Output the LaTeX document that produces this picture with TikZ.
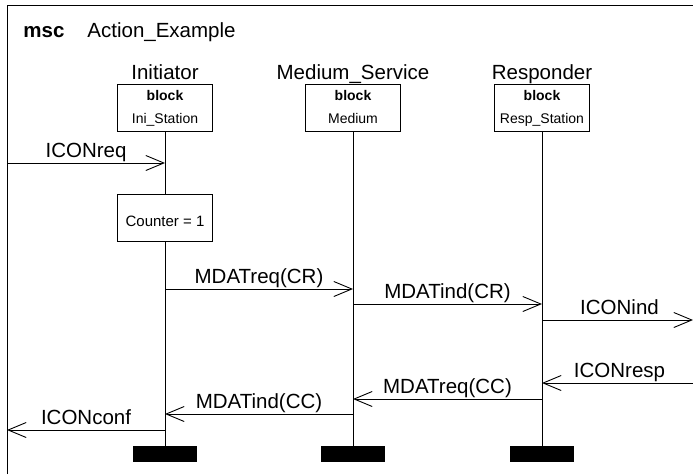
\documentclass[tikz,border=0pt]{standalone}
\usepackage{fontspec}
\setmainfont{Liberation Sans}
\usetikzlibrary{arrows.meta}
\begin{document}
\begin{tikzpicture}[x=1pt,y=-1pt, line width=0.9pt,
  big/.style={font=\fontsize{20.5}{24}\selectfont, inner sep=0, anchor=base},
  small/.style={font=\fontsize{14}{16}\selectfont, inner sep=0, anchor=base},
  inst/.style={draw, minimum width=95pt, minimum height=47pt, inner sep=0},
  bar/.style={fill=black, draw=none, minimum width=64pt, minimum height=16pt, inner sep=0},
  msg/.style={-{Straight Barb[length=18pt,width=15pt]}},
  lab/.style={big, midway, yshift=6pt},
]
\useasboundingbox (0,0) rectangle (693,474);
% frame
\draw (7,474) -- (7,5) -- (693,5);
\node[big, anchor=base west, font=\fontsize{20.5}{24}\selectfont\bfseries] (kw) at (23,37) {msc};
\node[big, anchor=base west] (name) at (87,37) {Action\_Example};

% instance heads
\node[big] (tI) at (165,79) {Initiator};
\node[big] (tM) at (353,79) {Medium\_Service};
\node[big] (tR) at (542,79) {Responder};

\node[inst] (bI) at (165,107.5) {};
\node[inst] (bM) at (353,107.5) {};
\node[inst] (bR) at (542,107.5) {};
\node[small, font=\fontsize{14}{16}\selectfont\bfseries] (kI) at (165,100) {block};
\node[small, font=\fontsize{14}{16}\selectfont\bfseries] (kM) at (353,100) {block};
\node[small, font=\fontsize{14}{16}\selectfont\bfseries] (kR) at (542,100) {block};
\node[small] (nI) at (165,123) {Ini\_Station};
\node[small] (nM) at (353,123) {Medium};
\node[small] (nR) at (542,123) {Resp\_Station};

% action
\node[inst] (cnt) at (165,217.5) {};
\node[small, font=\fontsize{15}{18}\selectfont] (cntt) at (165,226) {Counter = 1};

% instance ends
\node[bar] (eI) at (165,454) {};
\node[bar] (eM) at (353,454) {};
\node[bar] (eR) at (542,454) {};

% lifelines
\draw (bI.south) -- (cnt.north);
\draw (cnt.south) -- (eI.north);
\draw (bM.south) -- (eM.north);
\draw (bR.south) -- (eR.north);

% environment points
\coordinate (env1) at (7,163);
\coordinate (env2) at (693,320);
\coordinate (env3) at (693,383);
\coordinate (env4) at (7,430);

% messages
\draw[msg] (env1) -- (env1 -| bI.south) node[lab] {ICONreq};
\draw[msg] (bI.south |- 0,289) -- (bM.south |- 0,289) node[lab] {MDATreq(CR)};
\draw[msg] (bM.south |- 0,304) -- (bR.south |- 0,304) node[lab] {MDATind(CR)};
\draw[msg] (bR.south |- env2) -- (env2) node[lab, xshift=2pt] {ICONind};
\draw[msg] (env3) -- (env3 -| bR.south) node[lab, xshift=2pt] {ICONresp};
\draw[msg] (bR.south |- 0,399) -- (bM.south |- 0,399) node[lab] {MDATreq(CC)};
\draw[msg] (bM.south |- 0,414) -- (bI.south |- 0,414) node[lab] {MDATind(CC)};
\draw[msg] (env4 -| bI.south) -- (env4) node[lab] {ICONconf};
\end{tikzpicture}
\end{document}
